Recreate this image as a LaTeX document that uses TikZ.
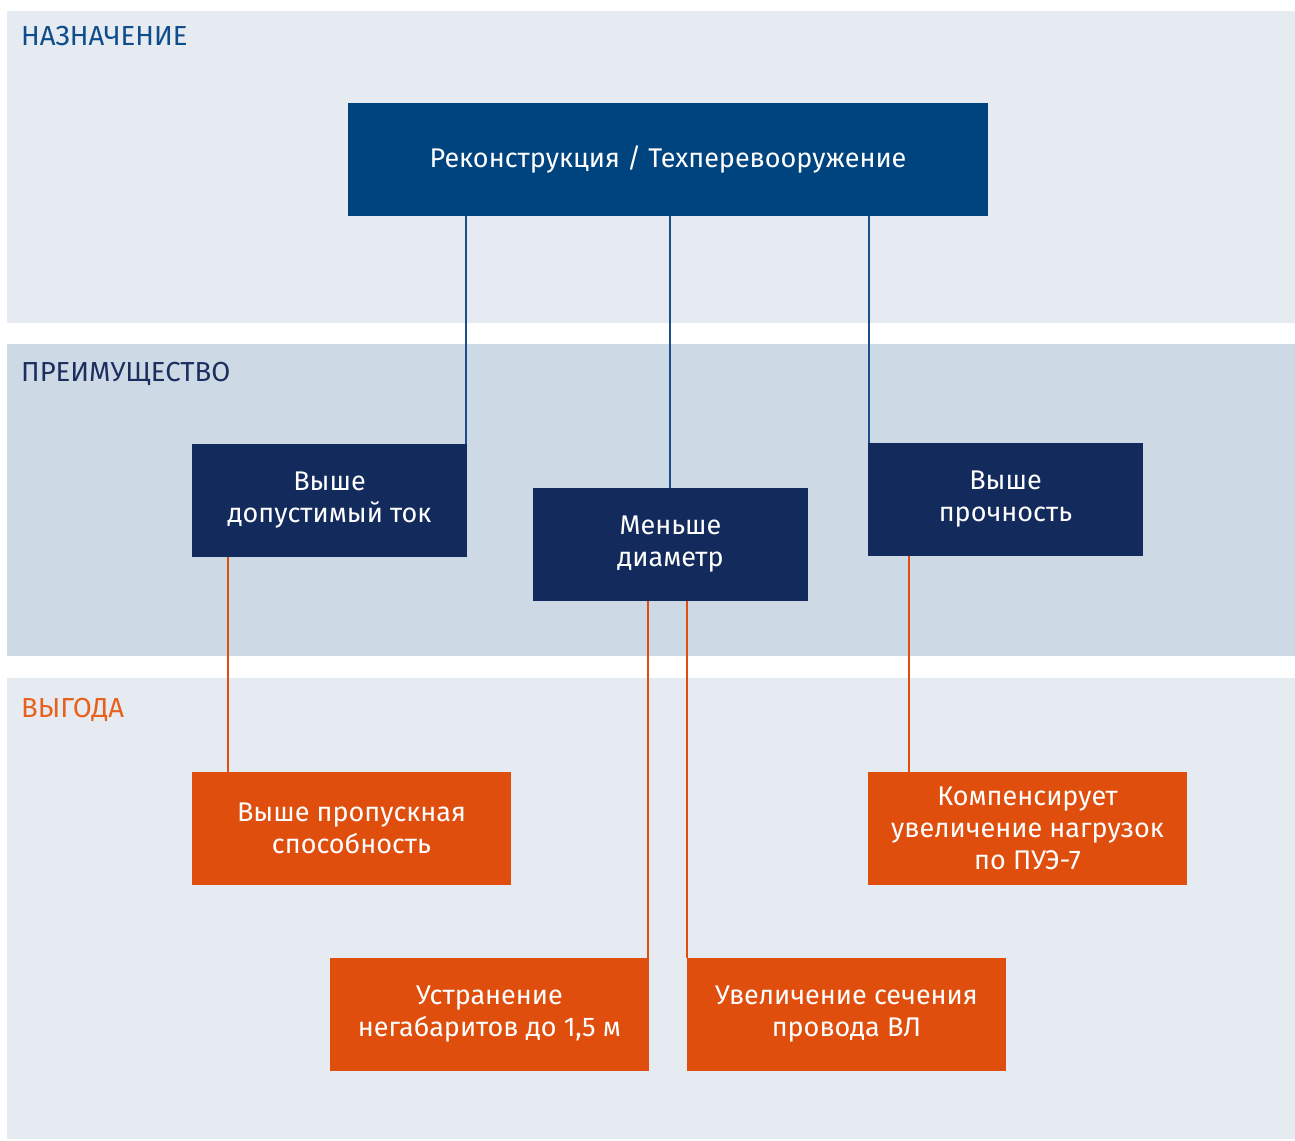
\documentclass[tikz,border=0pt]{standalone}
\usepackage{fontspec}
\setmainfont{Fira Sans}
\definecolor{bandlight}{HTML}{E6EBF2}
\definecolor{banddark}{HTML}{CDD9E5}
\definecolor{topblue}{HTML}{00447F}
\definecolor{navy}{HTML}{132B5C}
\definecolor{orng}{HTML}{E04E0E}
\definecolor{linkblue}{HTML}{1A4F8A}
\definecolor{hdrblue}{HTML}{0E4C8A}
\definecolor{hdrnavy}{HTML}{1B2E5E}
\definecolor{hdrorange}{HTML}{E8601C}
\tikzset{
  box/.style={inner sep=0pt, align=center, text=white, font=\fontsize{27}{32}\selectfont},
  topbox/.style={box, fill=topblue, minimum width=640pt, minimum height=113pt},
  midbox/.style={box, fill=navy, minimum width=275pt, minimum height=113pt},
  benbox/.style={box, fill=orng, minimum width=319pt, minimum height=113pt},
  bluelink/.style={draw=linkblue, line width=2.8pt},
  orlink/.style={draw=orng, line width=2.8pt},
  hdr/.style={anchor=base west, inner sep=0pt, font=\fontsize{27.5}{30}\selectfont},
}
\begin{document}
\begin{tikzpicture}[x=1pt,y=-1pt]
\useasboundingbox (0,0) rectangle (1295,1140);
\fill[white] (0,0) rectangle (1295,1140);
\fill[bandlight] (7,11) rectangle (1295,323);
\fill[banddark] (7,344) rectangle (1295,656);
\fill[bandlight] (7,678) rectangle (1295,1139);
\node[hdr, text=hdrblue] (h1) at (21,46) {НАЗНАЧЕНИЕ};
\node[hdr, text=hdrnavy] (h2) at (21,381) {ПРЕИМУЩЕСТВО};
\node[hdr, text=hdrorange] (h3) at (21,717) {ВЫГОДА};

\node[topbox] (top) at (668,159.5) {Реконструкция / Техперевооружение};
\node[midbox] (a) at (329.5,500.5) {Выше\\допустимый ток};
\node[midbox] (b) at (670.5,544.5) {Меньше\\диаметр};
\node[midbox] (c) at (1005.5,499.5) {Выше\\прочность};
\node[benbox] (o1) at (351.5,828.5) {Выше пропускная\\способность};
\node[benbox] (o2) at (1027.5,828.5) {Компенсирует\\увеличение нагрузок\\по ПУЭ-7};
\node[benbox] (o3) at (489.5,1014.5) {Устранение\\негабаритов до 1,5 м};
\node[benbox] (o4) at (846.5,1014.5) {Увеличение сечения\\провода ВЛ};

\draw[bluelink] (top.south -| 466,0) -- (a.north -| 466,0);
\draw[bluelink] (top.south -| 670,0) -- (b.north -| 670,0);
\draw[bluelink] (top.south -| 869,0) -- (c.north -| 869,0);
\draw[orlink] (a.south -| 228,0) -- (o1.north -| 228,0);
\draw[orlink] (b.south -| 648,0) -- (o3.north -| 648,0);
\draw[orlink] (b.south -| 687,0) -- (o4.north -| 687,0);
\draw[orlink] (c.south -| 909,0) -- (o2.north -| 909,0);
\end{tikzpicture}
\end{document}
